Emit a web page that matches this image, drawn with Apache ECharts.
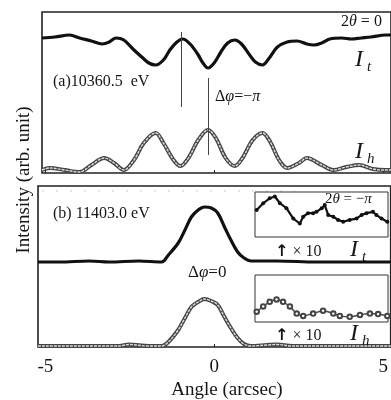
<!DOCTYPE html>
<html>
<head>
<meta charset="utf-8">
<script src="https://cdn.jsdelivr.net/npm/echarts@6/dist/echarts.min.js"></script>
<style>
html, body { margin: 0; padding: 0; background: #fff; }
#chart { width: 391px; height: 400px; }
</style>
</head>
<body>
<div id="chart"></div>
<script>
// (a) 10360.5 eV, transmitted I_t
var aItAngle = [-5.10, -4.72, -4.28, -3.99, -3.64, -3.32, -3.11, -2.91, -2.68, -2.38, -2.15, -1.94, -1.74, -1.51, -1.32, -1.11, -0.94, -0.72, -0.48, -0.34, -0.19, -0.01, 0.19, 0.39, 0.60, 0.80, 1.04, 1.21, 1.42, 1.62, 1.86, 2.15, 2.44, 2.73, 2.94, 3.17, 3.41, 3.76, 4.05, 4.34, 4.63, 5.07, 5.22];
var aItValue = [1.35, 1.36, 1.38, 1.35, 1.32, 1.29, 1.31, 1.35, 1.33, 1.23, 1.16, 1.10, 1.08, 1.13, 1.23, 1.31, 1.34, 1.29, 1.18, 1.10, 1.05, 1.10, 1.21, 1.30, 1.33, 1.29, 1.18, 1.11, 1.08, 1.15, 1.26, 1.31, 1.32, 1.29, 1.28, 1.30, 1.34, 1.35, 1.34, 1.35, 1.36, 1.38, 1.38];
// (a) diffracted I_h
var aIhAngle = [-5.10, -4.87, -4.43, -3.99, -3.64, -3.26, -2.97, -2.68, -2.38, -2.09, -1.74, -1.51, -1.21, -1.01, -0.77, -0.48, -0.19, 0.04, 0.33, 0.60, 0.83, 1.13, 1.42, 1.65, 1.91, 2.15, 2.50, 2.73, 3.17, 3.52, 3.90, 4.28, 4.69, 5.07, 5.22];
var aIhValue = [0.03, 0.05, 0.03, 0.01, 0.08, 0.15, 0.10, 0.03, 0.13, 0.30, 0.40, 0.30, 0.13, 0.07, 0.15, 0.33, 0.43, 0.35, 0.15, 0.07, 0.15, 0.33, 0.40, 0.31, 0.13, 0.05, 0.10, 0.15, 0.08, 0.03, 0.06, 0.08, 0.04, 0.03, 0.03];
// (b) 11403.0 eV, I_t
var bItAngle = [-5.22, -4.58, -3.70, -3.11, -2.24, -1.56, -1.36, -1.07, -0.87, -0.68, -0.48, -0.29, -0.09, 0.10, 0.30, 0.49, 0.69, 0.88, 1.08, 1.86, 3.03, 4.20, 5.22];
var bItValue = [0.85, 0.85, 0.86, 0.85, 0.86, 0.85, 0.92, 1.04, 1.17, 1.30, 1.37, 1.40, 1.39, 1.34, 1.20, 1.07, 0.95, 0.89, 0.86, 0.86, 0.85, 0.85, 0.85];
// (b) I_h
var bIhAngle = [-5.22, -2.82, -2.53, -1.94, -1.56, -1.36, -1.07, -0.87, -0.68, -0.48, -0.29, -0.09, 0.10, 0.30, 0.49, 0.69, 0.88, 1.08, 1.56, 1.86, 2.30, 5.22];
var bIhValue = [0.01, 0.01, 0.025, 0.01, 0.01, 0.05, 0.17, 0.29, 0.40, 0.45, 0.48, 0.46, 0.42, 0.30, 0.19, 0.09, 0.03, 0.01, 0.02, 0.025, 0.01, 0.01];
// insets (x10)
var insItAngle = [1.18, 1.37, 1.56, 1.71, 1.86, 2.05, 2.25, 2.44, 2.54, 2.68, 2.83, 2.93, 3.08, 3.17, 3.27, 3.42, 3.56, 3.71, 3.90, 4.10, 4.25, 4.39, 4.58, 4.68, 4.83, 5.00];
var insItValue = [0.60, 0.75, 0.86, 0.90, 0.75, 0.64, 0.41, 0.30, 0.45, 0.53, 0.53, 0.56, 0.64, 0.71, 0.49, 0.45, 0.38, 0.34, 0.38, 0.41, 0.49, 0.53, 0.56, 0.49, 0.41, 0.34];
var insIhAngle = [1.18, 1.37, 1.56, 1.76, 1.95, 2.15, 2.35, 2.54, 2.83, 3.12, 3.42, 3.61, 3.90, 4.20, 4.49, 4.73, 5.00];
var insIhValue = [0.22, 0.33, 0.43, 0.48, 0.43, 0.33, 0.18, 0.13, 0.18, 0.24, 0.18, 0.13, 0.11, 0.15, 0.18, 0.17, 0.13];
var tickAngles = [-5, 0, 5];

var SERIF = "Liberation Serif";
var INK = '#161616';

function pairs(xs, ys) {
  return xs.map(function (x, i) { return [x, ys[i]]; });
}

function hiddenY(idx, max) {
  return { type: 'value', gridIndex: idx, min: 0, max: max,
    axisLine: { show: false }, axisTick: { show: false },
    axisLabel: { show: false }, splitLine: { show: false } };
}

function plainX(idx, min, max, withLabels) {
  return { type: 'value', gridIndex: idx, min: min, max: max,
    axisLine: { show: false },
    axisTick: { show: true, inside: true, length: 3, customValues: tickAngles, lineStyle: { color: '#222' } },
    axisLabel: withLabels ? { show: true, customValues: tickAngles, margin: 11, fontFamily: SERIF, fontSize: 19, color: INK } : { show: false },
    splitLine: { show: false } };
}

function dotted(name, xi, data) {
  return { name: name, type: 'line', xAxisIndex: xi, yAxisIndex: xi, data: data, smooth: 0.35,
    showSymbol: false, lineStyle: { color: '#111', width: 3.2 }, z: 3 };
}

function hollow(name, xi, data) {
  return [
    { name: name, type: 'line', xAxisIndex: xi, yAxisIndex: xi, data: data, smooth: 0.35,
      showSymbol: false, lineStyle: { color: '#444', width: 4 }, z: 3 },
    { name: name + ' inner', type: 'line', xAxisIndex: xi, yAxisIndex: xi, data: data, smooth: 0.35,
      showSymbol: false, lineStyle: { color: '#dcdcdc', width: 1.4, type: [3, 1] }, z: 4 }
  ];
}

function txt(x, y, text, size, extra) {
  var s = { text: text, fontFamily: SERIF, fontSize: size, fill: INK, align: 'left', verticalAlign: 'middle' };
  for (var k in extra) s[k] = extra[k];
  return { type: 'text', x: x, y: y, z: 20, style: s };
}

function greek(size) {
  return {
    n: { fontFamily: SERIF, fontSize: size, color: INK },
    i: { fontFamily: SERIF, fontSize: size, fontStyle: 'italic', color: INK }
  };
}

var chart = echarts.init(document.getElementById('chart'));
var option = {
  animation: false,
  backgroundColor: '#fff',
  grid: [
    { left: 42, top: 12, width: 353, height: 161, show: true, borderColor: '#222', borderWidth: 1.6, backgroundColor: 'transparent' },
    { left: 38, top: 186, width: 357, height: 161, show: true, borderColor: '#222', borderWidth: 1.6, backgroundColor: 'transparent' },
    { left: 255, top: 192, width: 133, height: 45, show: true, borderColor: '#333', borderWidth: 1, backgroundColor: '#fff', z: 5 },
    { left: 255, top: 275, width: 133, height: 47, show: true, borderColor: '#333', borderWidth: 1, backgroundColor: '#fff', z: 5 }
  ],
  xAxis: [
    plainX(0, -5.10, 5.22, false),
    plainX(1, -5.22, 5.22, true),
    { type: 'value', gridIndex: 2, min: 1.13, max: 5.02, show: false },
    { type: 'value', gridIndex: 3, min: 1.13, max: 5.02, show: false }
  ],
  yAxis: [hiddenY(0, 1.61), hiddenY(1, 1.61), hiddenY(2, 1), hiddenY(3, 1)],
  series: [
    Object.assign(dotted('a I_t', 0, pairs(aItAngle, aItValue)), {
      markLine: { silent: true, symbol: 'none', label: { show: false },
        lineStyle: { color: '#444', width: 1, type: 'solid' },
        data: [
          [{ coord: [-0.98, 1.41] }, { coord: [-0.98, 0.66] }],
          [{ coord: [-0.19, 0.95] }, { coord: [-0.19, 0.18] }]
        ] }
    })
  ].concat(hollow('a I_h', 0, pairs(aIhAngle, aIhValue)))
   .concat([dotted('b I_t', 1, pairs(bItAngle, bItValue))])
   .concat(hollow('b I_h', 1, pairs(bIhAngle, bIhValue)))
   .concat([
    { name: 'inset I_t', type: 'line', xAxisIndex: 2, yAxisIndex: 2, data: pairs(insItAngle, insItValue),
      symbol: 'circle', symbolSize: 4, itemStyle: { color: '#111' }, lineStyle: { color: '#111', width: 2.2 }, z: 6 },
    { name: 'inset I_h', type: 'line', xAxisIndex: 3, yAxisIndex: 3, data: pairs(insIhAngle, insIhValue), smooth: 0.35,
      symbol: 'emptyCircle', symbolSize: 4.5, itemStyle: { color: '#444', borderWidth: 1.2 }, lineStyle: { color: '#444', width: 1.4 }, z: 6 }
  ]),
  graphic: [
    Object.assign(txt(24, 180, 'Intensity (arb. unit)', 19, { align: 'center' }), { rotation: Math.PI / 2 }),
    { type: 'line', z: 1, shape: { x1: 42, y1: 191, x2: 295, y2: 191 },
      style: { stroke: '#c8c8c8', lineWidth: 1, lineDash: [2, 12] } },
    txt(227, 390, 'Angle (arcsec)', 19, { align: 'center' }),
    txt(341, 22, '{n|2}{i|θ}{n| = 0}', 16, { rich: greek(16) }),
    txt(355, 60, 'I', 24, { fontStyle: 'italic' }),
    txt(367, 67, 't', 15, { fontStyle: 'italic' }),
    txt(53, 82, '(a)10360.5  eV', 16, {}),
    txt(215, 97, '{n|Δ}{i|φ}{n|=−}{i|π}', 16, { rich: greek(16) }),
    txt(355, 152, 'I', 24, { fontStyle: 'italic' }),
    txt(367, 159, 'h', 15, { fontStyle: 'italic' }),
    txt(53, 214, '(b) 11403.0 eV', 16, {}),
    txt(188, 273, '{n|Δ}{i|φ}{n|=0}', 17, { rich: greek(17) }),
    txt(325, 199, '{n|2}{i|θ}{n| = −}{i|π}', 15, { rich: greek(15) }),
    txt(275, 252, '{a|↑}{n| × 10}', 16, { rich: { a: { fontFamily: 'DejaVu Sans', fontSize: 16, fontWeight: 'bold', color: INK }, n: { fontFamily: SERIF, fontSize: 16, color: INK } } }),
    txt(350, 250, 'I', 24, { fontStyle: 'italic' }),
    txt(362, 257, 't', 15, { fontStyle: 'italic' }),
    txt(275, 336, '{a|↑}{n| × 10}', 16, { rich: { a: { fontFamily: 'DejaVu Sans', fontSize: 16, fontWeight: 'bold', color: INK }, n: { fontFamily: SERIF, fontSize: 16, color: INK } } }),
    txt(350, 334, 'I', 24, { fontStyle: 'italic' }),
    txt(362, 341, 'h', 15, { fontStyle: 'italic' })
  ]
};
chart.setOption(option);
</script>
</body>
</html>
